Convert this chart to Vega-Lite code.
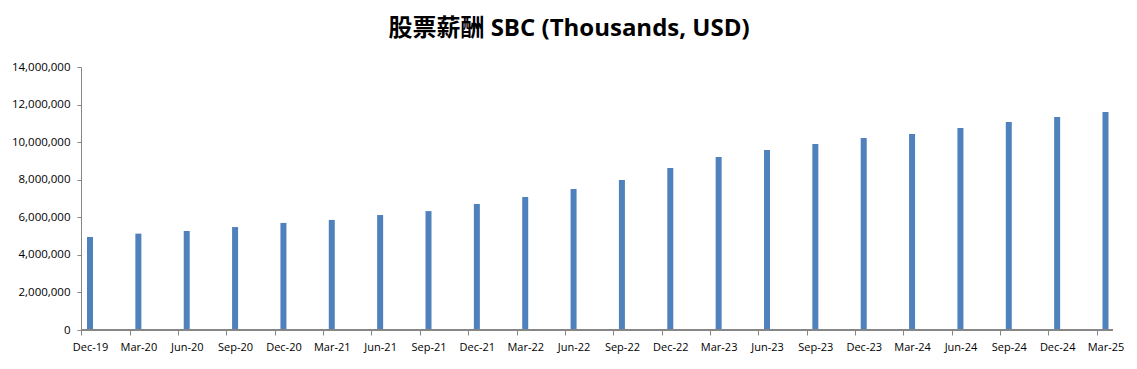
{
  "$schema": "https://vega.github.io/schema/vega-lite/v6.json",
  "width": 1032,
  "height": 263,
  "autosize": "none",
  "padding": {"left": 81, "top": 67, "right": 24, "bottom": 39},
  "background": "white",
  "title": {
    "text": "股票薪酬 SBC (Thousands, USD)",
    "font": "Open Sans, Noto Sans CJK SC",
    "fontSize": 24,
    "fontWeight": "bold",
    "color": "black",
    "anchor": "middle",
    "dx": -28,
    "offset": 20
  },
  "config": {"view": {"stroke": null}},
  "data": {
    "values": [
      {"q": "Dec-19", "sbc": 4950000},
      {"q": "Mar-20", "sbc": 5130000},
      {"q": "Jun-20", "sbc": 5270000},
      {"q": "Sep-20", "sbc": 5480000},
      {"q": "Dec-20", "sbc": 5700000},
      {"q": "Mar-21", "sbc": 5860000},
      {"q": "Jun-21", "sbc": 6120000},
      {"q": "Sep-21", "sbc": 6330000},
      {"q": "Dec-21", "sbc": 6710000},
      {"q": "Mar-22", "sbc": 7080000},
      {"q": "Jun-22", "sbc": 7510000},
      {"q": "Sep-22", "sbc": 7980000},
      {"q": "Dec-22", "sbc": 8620000},
      {"q": "Mar-23", "sbc": 9210000},
      {"q": "Jun-23", "sbc": 9580000},
      {"q": "Sep-23", "sbc": 9900000},
      {"q": "Dec-23", "sbc": 10220000},
      {"q": "Mar-24", "sbc": 10430000},
      {"q": "Jun-24", "sbc": 10750000},
      {"q": "Sep-24", "sbc": 11070000},
      {"q": "Dec-24", "sbc": 11340000},
      {"q": "Mar-25", "sbc": 11600000}
    ]
  },
  "resolve": {"axis": {"y": "independent"}},
  "layer": [
    {
      "mark": {"type": "bar", "width": 6, "color": "#4F81BD"},
      "encoding": {
        "x": {
          "field": "q",
          "type": "ordinal",
          "sort": null,
          "scale": {"type": "point", "range": [9, 1024.5], "padding": 0},
          "axis": {
            "title": null,
            "labelAngle": 0,
            "domain": false,
            "tickOffset": -8.7,
            "labelOffset": 8.7,
            "tickSize": 5,
            "tickColor": "#868686",
            "labelPadding": 6,
            "labelFont": "Open Sans",
            "labelFontSize": 11,
            "labelColor": "black",
            "labelOverlap": false,
            "grid": false
          }
        },
        "y": {
          "field": "sbc",
          "type": "quantitative",
          "scale": {"domain": [0, 14000000], "nice": false},
          "axis": {
            "title": null,
            "values": [0, 2000000, 4000000, 6000000, 8000000, 10000000, 12000000, 14000000],
            "format": ",d",
            "grid": false,
            "domainColor": "#868686",
            "tickColor": "#868686",
            "tickSize": 4,
            "labelPadding": 7,
            "labelFont": "Open Sans",
            "labelFontSize": 11.5,
            "labelColor": "black",
            "labelOverlap": false,
            "labelBound": false
          }
        }
      }
    },
    {
      "mark": {"type": "rule", "color": "#868686"},
      "encoding": {"y": {"datum": 0, "axis": null}}
    }
  ]
}
